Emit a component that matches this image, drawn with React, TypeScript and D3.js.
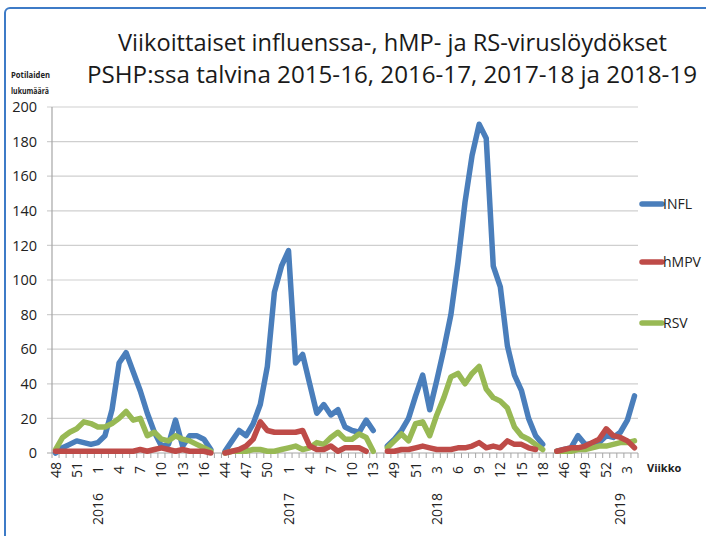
import React from "react";
import * as d3 from "d3";

// ---- data ----
const weeks1 = [48, 49, 50, 51, 52, 53, 1, 2, 3, 4, 5, 6, 7, 8, 9, 10, 11, 12, 13, 14, 15, 16, 17];
const weeks2 = [44, 45, 46, 47, 48, 49, 50, 51, 52, 1, 2, 3, 4, 5, 6, 7, 8, 9, 10, 11, 12, 13];
const weeks3 = [48, 49, 50, 51, 52, 1, 2, 3, 4, 5, 6, 7, 8, 9, 10, 11, 12, 13, 14, 15, 16, 17, 18];
const weeks4 = [45, 46, 47, 48, 49, 50, 51, 52, 1, 2, 3, 4];

const infl1 = [0, 3, 5, 7, 6, 5, 6, 10, 25, 52, 58, 47, 36, 23, 12, 4, 5, 19, 4, 10, 10, 8, 2];
const hmpv1 = [1, 1, 1, 1, 1, 1, 1, 1, 1, 1, 1, 1, 2, 1, 2, 3, 2, 1, 2, 1, 1, 1, 0];
const rsv1 = [2, 9, 12, 14, 18, 17, 15, 15, 17, 20, 24, 19, 20, 10, 12, 8, 7, 10, 8, 7, 5, 3, 1];

const infl2 = [1, 7, 13, 10, 17, 28, 50, 93, 108, 117, 52, 57, 40, 23, 28, 22, 25, 15, 13, 12, 19, 13];
const hmpv2 = [0, 1, 2, 4, 8, 18, 13, 12, 12, 12, 12, 13, 4, 2, 2, 4, 1, 3, 3, 3, 1, null];
const rsv2 = [0, 1, 1, 1, 2, 2, 1, 1, 2, 3, 4, 2, 3, 6, 5, 9, 12, 8, 8, 11, 9, 1];

const infl3 = [4, 8, 13, 20, 33, 45, 25, 42, 60, 80, 110, 145, 172, 190, 182, 108, 96, 62, 45, 36, 20, 10, 5];
const hmpv3 = [1, 1, 2, 2, 3, 4, 3, 2, 2, 2, 3, 3, 4, 6, 3, 4, 3, 7, 5, 5, 3, 2, null];
const rsv3 = [3, 7, 11, 7, 17, 18, 10, 22, 32, 44, 46, 40, 46, 50, 37, 32, 30, 26, 15, 10, 8, 5, 2];

const infl4 = [1, 2, 3, 10, 5, 5, 6, 10, 9, 12, 19, 33];
const hmpv4 = [1, 2, 3, 3, 4, 6, 8, 14, 10, 9, 7, 3];
const rsv4 = [1, 1, 1, 2, 2, 3, 4, 4, 5, 6, 6, 7];

// week tick labels as printed (every third category)
const tickLabels = ["48", "51", "1", "4", "7", "10", "13", "16", "44", "47", "50", "1", "4", "7", "10", "13",
  "49", "51", "3", "6", "9", "12", "15", "18", "46", "49", "52", "3"];
const yearLabels = ["2016", "2017", "2018", "2019"];
const yearCategory = [6, 33, 54, 80];
const yTicks = [0, 20, 40, 60, 80, 100, 120, 140, 160, 180, 200];

const seriesNames = ["INFL", "hMPV", "RSV"];
const seriesColors = ["#4A7EBB", "#BE4B48", "#98B954"];

// build category table: seasons separated by one blank category
type Cat = { week: number | null; v: (number | null)[] };
function buildCats(): Cat[] {
  const seasons = [
    [weeks1, infl1, hmpv1, rsv1],
    [weeks2, infl2, hmpv2, rsv2],
    [weeks3, infl3, hmpv3, rsv3],
    [weeks4, infl4, hmpv4, rsv4],
  ] as (number | null)[][][];
  const out: Cat[] = [];
  seasons.forEach((s, si) => {
    if (si > 0) out.push({ week: null, v: [null, null, null] });
    s[0].forEach((w, i) => out.push({ week: w as number, v: [s[1][i], s[2][i], s[3][i]] }));
  });
  return out;
}
const cats = buildCats();

const FONT = "'Open Sans', 'Liberation Sans', sans-serif";

export default function App() {
  const W = 706, H = 536;
  const left = 52, right = 638, top = 107, bottom = 453;
  const x = d3.scaleBand<number>().domain(d3.range(cats.length)).range([left, right]).padding(0);
  const cx = (i: number) => (x(i) as number) + x.bandwidth() / 2;
  const y = d3.scaleLinear().domain([0, 200]).range([bottom, top]);

  const line = (si: number) =>
    d3.line<Cat>()
      .defined((d) => d.v[si] != null)
      .x((d, i) => cx(i))
      .y((d) => y(d.v[si] as number))(cats) || "";

  const drawOrder = [0, 2, 1];
  const legendY = [204, 262, 323];

  return (
    <svg width={W} height={H} style={{ position: "absolute", left: 0, top: 0, background: "#fff" }}
      fontFamily={FONT}>
      <rect x={0} y={0} width={W} height={H} fill="#fff" />
      <rect x={5} y={8} width={760} height={600} rx={5} fill="none" stroke="#3D7BC7" strokeWidth={2} />

      {/* title */}
      <text x={118} y={51} fontSize={23} fill="#1a1a1a" textLength={549} lengthAdjust="spacingAndGlyphs">
        Viikoittaiset influenssa-, hMP- ja RS-viruslöydökset
      </text>
      <text x={87} y={83} fontSize={23} fill="#1a1a1a" textLength={610} lengthAdjust="spacingAndGlyphs">
        PSHP:ssa talvina 2015-16, 2016-17, 2017-18 ja 2018-19
      </text>
      <text x={11} y={78} fontSize={9} fontWeight="bold" fill="#222" textLength={39} lengthAdjust="spacingAndGlyphs">Potilaiden</text>
      <text x={11} y={94} fontSize={9} fontWeight="bold" fill="#222" textLength={38} lengthAdjust="spacingAndGlyphs">lukumäärä</text>

      {/* grid and y axis */}
      {yTicks.map((t) => (
        <g key={t}>
          <line x1={left - 5} x2={right} y1={y(t)} y2={y(t)} stroke={t === 0 ? "#A6A6A6" : "#CFCFCF"} strokeWidth={1.2} />
          <text x={37} y={y(t)} dy="0.36em" textAnchor="end" fontSize={14.5} fill="#222">{t}</text>
        </g>
      ))}
      <line x1={left} x2={left} y1={top} y2={bottom} stroke="#A6A6A6" strokeWidth={1.2} />
      {d3.range(cats.length + 1).map((k) => {
        const xx = left + k * x.step();
        return <line key={k} x1={xx} x2={xx} y1={bottom} y2={bottom + 5} stroke="#A6A6A6" strokeWidth={1} />;
      })}

      {/* week labels */}
      {tickLabels.map((lab, k) => {
        const i = k * 3;
        return (
          <text key={k} transform={`translate(${cx(i) + 5},${470}) rotate(-90)`} textAnchor="middle"
            fontSize={14} fill="#222">{lab}</text>
        );
      })}
      {yearLabels.map((lab, k) => (
        <text key={lab} transform={`translate(${cx(yearCategory[k]) + 5},${509}) rotate(-90)`} textAnchor="middle"
          fontSize={14} fill="#222">{lab}</text>
      ))}
      <text x={647} y={472} fontSize={11} fontWeight="bold" fill="#222">Viikko</text>

      {/* series */}
      {drawOrder.map((si) => (
        <path key={si} d={line(si)} fill="none" stroke={seriesColors[si]} strokeWidth={5.5}
          strokeLinejoin="round" strokeLinecap="round" />
      ))}

      {/* legend */}
      {seriesNames.map((n, si) => (
        <g key={n}>
          <line x1={642} x2={662} y1={legendY[si]} y2={legendY[si]} stroke={seriesColors[si]} strokeWidth={5.5} strokeLinecap="round" />
          <text x={663} y={legendY[si]} dy="0.36em" fontSize={14} fill="#222">{n}</text>
        </g>
      ))}
    </svg>
  );
}
